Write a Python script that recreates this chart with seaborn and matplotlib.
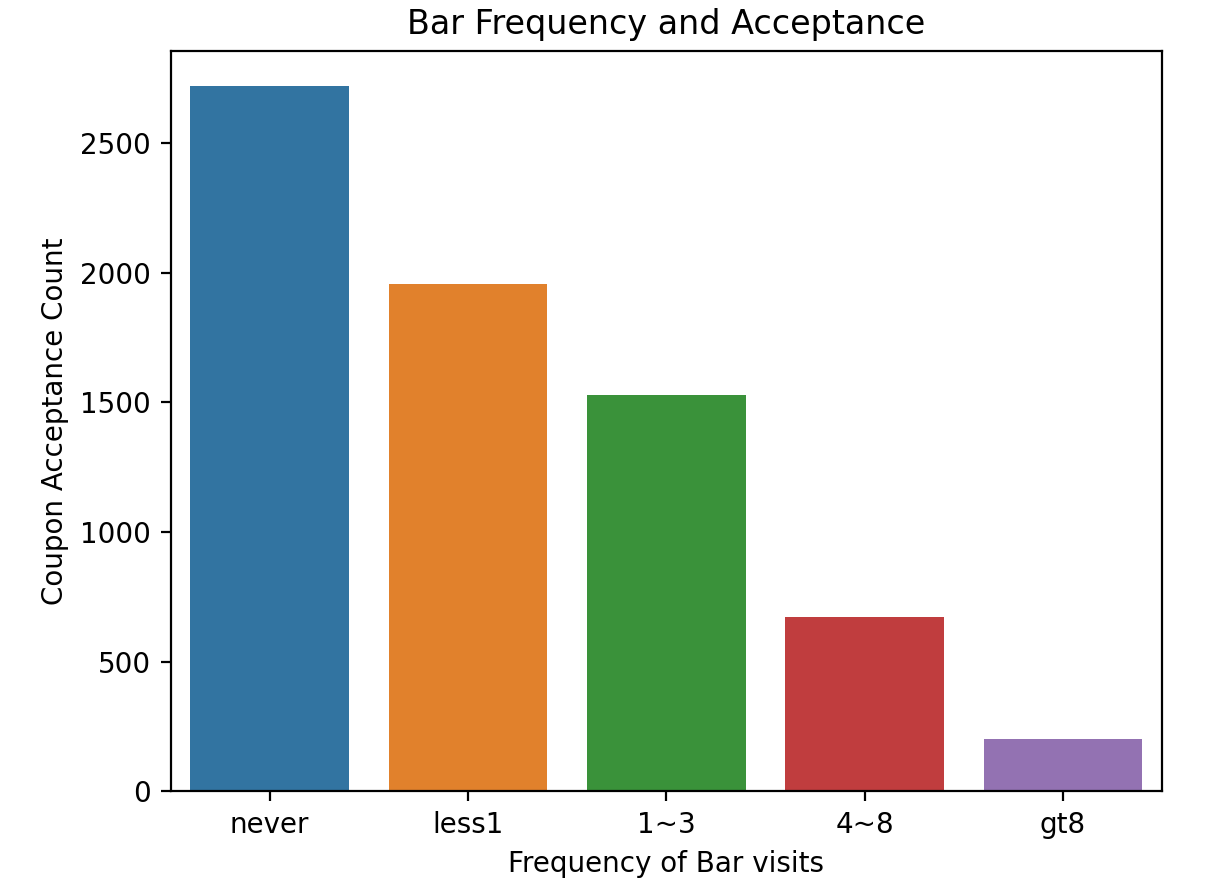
import matplotlib
matplotlib.use("Agg")
import matplotlib.pyplot as plt
import seaborn as sns
import pandas as pd

categories = ["never", "less1", "1~3", "4~8", "gt8"]
counts = [2720, 1955, 1530, 672, 201]

df = pd.DataFrame({"Bar": categories, "count": counts})

fig = plt.figure(figsize=(6.09, 4.47), dpi=200)
ax = fig.add_axes([0.14, 0.115, 0.814, 0.828])
sns.barplot(data=df, x="Bar", y="count", hue="Bar", palette="tab10",
            legend=False, ax=ax)

ax.set_title("Bar Frequency and Acceptance")
ax.set_xlabel("Frequency of Bar visits")
ax.set_ylabel("Coupon Acceptance Count")

plt.savefig("out.png", dpi=200)
plt.close()
